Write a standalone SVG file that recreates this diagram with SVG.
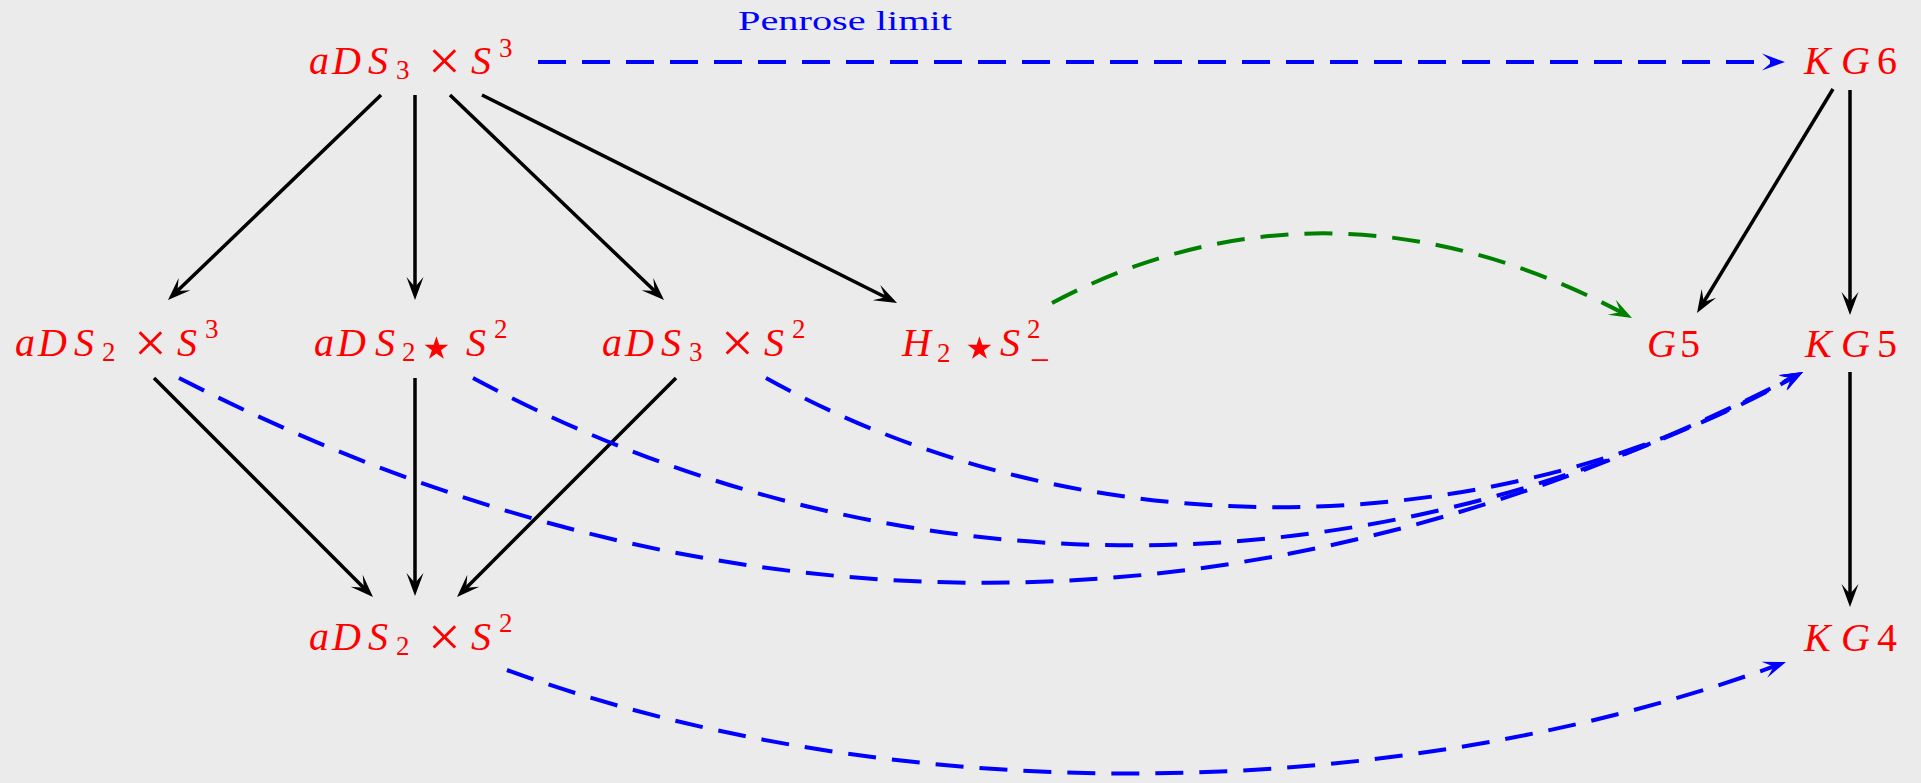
<svg xmlns="http://www.w3.org/2000/svg" width="1921" height="783" viewBox="0 0 1921 783">
<defs>
<style>
.m{font-family:"Liberation Serif","Times New Roman",serif;font-style:italic;font-size:40px;fill:#ff0000}
.u{font-style:normal}
.x{font-style:normal;font-size:58px}
.s{font-style:normal;font-size:27px}
.mn{font-style:normal;font-size:35px}
.st{font-family:"DejaVu Sans",sans-serif;font-style:normal;font-size:62px}
.lbl{font-family:"Liberation Serif","Times New Roman",serif;font-size:27px;fill:#0000ff}
.e{stroke:#000;stroke-width:3.5;fill:none;marker-end:url(#ak)}
.b{stroke:#0000ff;stroke-width:4;fill:none;stroke-dasharray:28 16;marker-end:url(#ab)}
.g{stroke:#008000;stroke-width:4;fill:none;stroke-dasharray:28 16;marker-end:url(#ag)}
</style>
<marker id="ak" markerUnits="userSpaceOnUse" viewBox="-25 -10 27 20" refX="-10" refY="0" markerWidth="27" markerHeight="20" orient="auto"><path d="M0,0 L-23,-8.5 L-13,0 L-23,8.5 Z" fill="#000"/></marker>
<marker id="ab" markerUnits="userSpaceOnUse" viewBox="-25 -10 27 20" refX="-10" refY="0" markerWidth="27" markerHeight="20" orient="auto"><path d="M0,0 L-23,-8.5 L-13,0 L-23,8.5 Z" fill="#0000ff"/></marker>
<marker id="ag" markerUnits="userSpaceOnUse" viewBox="-25 -10 27 20" refX="-10" refY="0" markerWidth="27" markerHeight="20" orient="auto"><path d="M0,0 L-23,-8.5 L-13,0 L-23,8.5 Z" fill="#008000"/></marker>
</defs>
<rect width="1921" height="783" fill="#ebebeb"/>

<g id="connectors">
<line class="e" x1="381" y1="95" x2="175.2" y2="293.1"/>
<line class="e" x1="415" y1="95" x2="415" y2="290"/>
<line class="e" x1="450" y1="95" x2="656.8" y2="293.1"/>
<line class="e" x1="482" y1="95" x2="888.1" y2="298.5"/>
<line class="e" x1="154" y1="378" x2="365.9" y2="589.9"/>
<line class="e" x1="415" y1="378" x2="415" y2="586"/>
<line class="e" x1="676" y1="378" x2="464.1" y2="589.9"/>
<line class="e" x1="1833" y1="89" x2="1702.2" y2="304.5"/>
<line class="e" x1="1850" y1="90" x2="1850" y2="305"/>
<line class="e" x1="1850" y1="372" x2="1850" y2="597"/>
<line class="b" x1="538" y1="62" x2="1775" y2="62"/>
<path class="b" d="M179,378 C716,652 1258.1,650.6 1794.1,376.6"/>
<path class="b" d="M473,378 C891,602 1375.2,600.7 1794.2,376.7"/>
<path class="b" d="M766,378 C1076,551 1484.3,549.9 1794.3,376.9"/>
<path class="b" d="M507,670 C894,811 1389.6,806.4 1776.6,665.4"/>
<path class="g" d="M1052,303 C1239,204 1435.2,213.3 1623.2,313.3"/>
<text class="lbl" x="738" y="30" textLength="214" lengthAdjust="spacingAndGlyphs">Penrose limit</text>
</g>

<g id="n-ads3s3"><text class="m" y="74"><tspan x="309">a</tspan><tspan x="332">D</tspan><tspan x="368">S</tspan><tspan class="s" x="396" y="79">3</tspan><tspan class="x" x="428" y="80">×</tspan><tspan x="471" y="74">S</tspan><tspan class="s" x="499" y="57">3</tspan></text></g>

<g id="n-kg6"><text class="m" y="74"><tspan x="1804">K</tspan><tspan x="1841">G</tspan><tspan class="u" x="1877">6</tspan></text></g>

<g id="n-ads2s3"><text class="m" y="356"><tspan x="15">a</tspan><tspan x="38">D</tspan><tspan x="74">S</tspan><tspan class="s" x="102" y="361">2</tspan><tspan class="x" x="134" y="362">×</tspan><tspan x="177" y="356">S</tspan><tspan class="s" x="205" y="338">3</tspan></text></g>

<g id="n-ads2stars2"><text class="m" y="356"><tspan x="314">a</tspan><tspan x="337">D</tspan><tspan x="375">S</tspan><tspan class="s" x="402" y="361">2</tspan><tspan class="st" x="417" y="368">⋆</tspan><tspan x="466" y="356">S</tspan><tspan class="s" x="494" y="338">2</tspan></text></g>

<g id="n-ads3s2"><text class="m" y="356"><tspan x="602">a</tspan><tspan x="625">D</tspan><tspan x="661">S</tspan><tspan class="s" x="689" y="361">3</tspan><tspan class="x" x="721" y="362">×</tspan><tspan x="764" y="356">S</tspan><tspan class="s" x="792" y="338">2</tspan></text></g>

<g id="n-h2stars2"><text class="m" y="356"><tspan x="902">H</tspan><tspan class="s" x="937" y="362">2</tspan><tspan class="st" x="960" y="368">⋆</tspan><tspan x="1000" y="356">S</tspan><tspan class="s" x="1027" y="338">2</tspan><tspan class="mn" x="1030" y="372">−</tspan></text></g>

<g id="n-g5"><text class="m" y="357"><tspan x="1647">G</tspan><tspan class="u" x="1680">5</tspan></text></g>

<g id="n-kg5"><text class="m" y="357"><tspan x="1805">K</tspan><tspan x="1841">G</tspan><tspan class="u" x="1877">5</tspan></text></g>

<g id="n-ads2s2"><text class="m" y="650"><tspan x="309">a</tspan><tspan x="332">D</tspan><tspan x="368">S</tspan><tspan class="s" x="396" y="655">2</tspan><tspan class="x" x="428" y="656">×</tspan><tspan x="471" y="650">S</tspan><tspan class="s" x="499" y="632">2</tspan></text></g>

<g id="n-kg4"><text class="m" y="651"><tspan x="1804">K</tspan><tspan x="1841">G</tspan><tspan class="u" x="1877">4</tspan></text></g>
</svg>
